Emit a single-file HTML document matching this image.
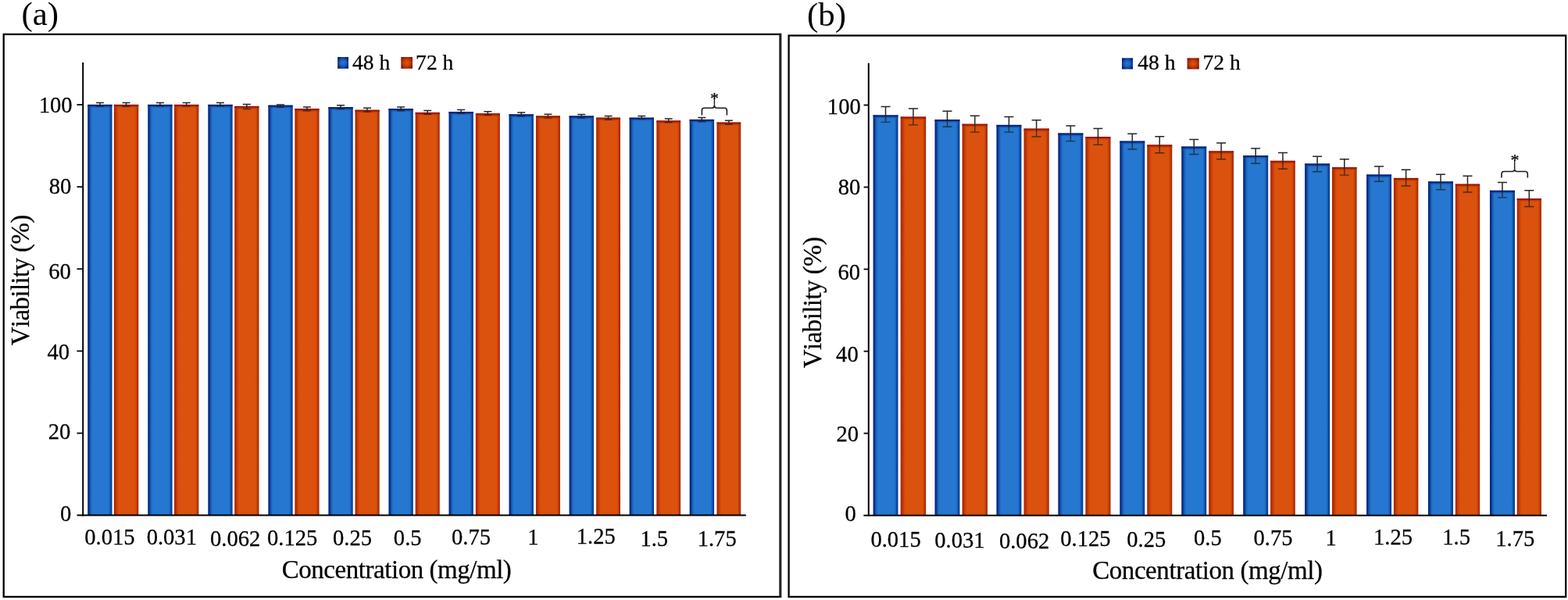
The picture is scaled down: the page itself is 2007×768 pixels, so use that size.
<!DOCTYPE html>
<html><head><meta charset="utf-8"><title>Viability charts</title>
<style>
html,body{margin:0;padding:0;background:#fff;}
body{width:2007px;height:768px;overflow:hidden;}
svg{display:block;}
text{font-family:'Liberation Serif', 'Times New Roman', serif;fill:#000;font-kerning:none;stroke:#000;stroke-width:0.25px;}
</style></head><body>
<svg width="2007" height="768" viewBox="0 0 2007 768">
<rect width="2007" height="768" fill="#fff"/>

<defs>
<linearGradient id="hB" x1="0" y1="0" x2="1" y2="0">
 <stop offset="0" stop-color="#001f78"/><stop offset="0.035" stop-color="#00287f"/>
 <stop offset="0.12" stop-color="#1a60ba"/><stop offset="0.19" stop-color="#2577cf"/>
 <stop offset="0.86" stop-color="#2577cf"/><stop offset="0.94" stop-color="#0f4ea8"/>
 <stop offset="1" stop-color="#002a86"/>
</linearGradient>
<linearGradient id="hO" x1="0" y1="0" x2="1" y2="0">
 <stop offset="0" stop-color="#a82000"/><stop offset="0.035" stop-color="#b22600"/>
 <stop offset="0.12" stop-color="#cd4206"/><stop offset="0.19" stop-color="#da520d"/>
 <stop offset="0.86" stop-color="#da520d"/><stop offset="0.94" stop-color="#be3904"/>
 <stop offset="1" stop-color="#a01c00"/>
</linearGradient>
<linearGradient id="vB" x1="0" y1="0" x2="0" y2="1">
 <stop offset="0" stop-color="#001466" stop-opacity="1"/><stop offset="0.3" stop-color="#00207a" stop-opacity="0.85"/>
 <stop offset="1" stop-color="#2577cf" stop-opacity="0"/>
</linearGradient>
<linearGradient id="vO" x1="0" y1="0" x2="0" y2="1">
 <stop offset="0" stop-color="#8a0a00" stop-opacity="1"/><stop offset="0.3" stop-color="#9c1600" stop-opacity="0.85"/>
 <stop offset="1" stop-color="#da520d" stop-opacity="0"/>
</linearGradient>
<radialGradient id="lgB" cx="0.5" cy="0.5" r="0.6">
 <stop offset="0" stop-color="#2a7ad2"/><stop offset="0.5" stop-color="#1a5cb8"/><stop offset="1" stop-color="#001a6a"/>
</radialGradient>
<radialGradient id="lgO" cx="0.5" cy="0.5" r="0.6">
 <stop offset="0" stop-color="#e0560f"/><stop offset="0.5" stop-color="#c83c05"/><stop offset="1" stop-color="#801000"/>
</radialGradient>
</defs>

<rect x="4.7" y="43.9" width="994.20" height="720.00" fill="none" stroke="#000" stroke-width="2.3"/>
<rect x="997.35" y="42.75" width="3.0" height="722.30" fill="#222"/>
<text x="27.44" y="32.07" font-size="42.90" style="stroke:none">(a)</text>
<rect x="432.1" y="73" width="13.90" height="14.80" fill="url(#lgB)"/>
<rect x="513.3" y="73" width="14.70" height="14.80" fill="url(#lgO)"/>
<text x="450.91" y="88.50" font-size="27.6">48 h</text>
<text x="532.12" y="88.50" font-size="27.6">72 h</text>
<rect x="112.24" y="133.90" width="31.21" height="525.70" fill="url(#hB)"/>
<rect x="112.24" y="133.90" width="31.21" height="5" fill="url(#vB)"/>
<rect x="145.87" y="133.90" width="31.39" height="525.70" fill="url(#hO)"/>
<rect x="145.87" y="133.90" width="31.39" height="5" fill="url(#vO)"/>
<rect x="189.28" y="133.90" width="31.23" height="525.70" fill="url(#hB)"/>
<rect x="189.28" y="133.90" width="31.23" height="5" fill="url(#vB)"/>
<rect x="223.03" y="133.90" width="31.32" height="525.70" fill="url(#hO)"/>
<rect x="223.03" y="133.90" width="31.32" height="5" fill="url(#vO)"/>
<rect x="266.33" y="133.90" width="31.25" height="525.70" fill="url(#hB)"/>
<rect x="266.33" y="133.90" width="31.25" height="5" fill="url(#vB)"/>
<rect x="300.19" y="135.90" width="31.25" height="523.70" fill="url(#hO)"/>
<rect x="300.19" y="135.90" width="31.25" height="5" fill="url(#vO)"/>
<rect x="343.37" y="134.70" width="31.26" height="524.90" fill="url(#hB)"/>
<rect x="343.37" y="134.70" width="31.26" height="5" fill="url(#vB)"/>
<rect x="377.36" y="139.10" width="31.19" height="520.50" fill="url(#hO)"/>
<rect x="377.36" y="139.10" width="31.19" height="5" fill="url(#vO)"/>
<rect x="420.41" y="137.10" width="31.28" height="522.50" fill="url(#hB)"/>
<rect x="420.41" y="137.10" width="31.28" height="5" fill="url(#vB)"/>
<rect x="454.52" y="140.70" width="31.12" height="518.90" fill="url(#hO)"/>
<rect x="454.52" y="140.70" width="31.12" height="5" fill="url(#vO)"/>
<rect x="497.46" y="139.10" width="31.30" height="520.50" fill="url(#hB)"/>
<rect x="497.46" y="139.10" width="31.30" height="5" fill="url(#vB)"/>
<rect x="531.68" y="143.90" width="31.05" height="515.70" fill="url(#hO)"/>
<rect x="531.68" y="143.90" width="31.05" height="5" fill="url(#vO)"/>
<rect x="574.50" y="143.10" width="31.32" height="516.50" fill="url(#hB)"/>
<rect x="574.50" y="143.10" width="31.32" height="5" fill="url(#vB)"/>
<rect x="608.85" y="145.20" width="30.99" height="514.40" fill="url(#hO)"/>
<rect x="608.85" y="145.20" width="30.99" height="5" fill="url(#vO)"/>
<rect x="651.54" y="146.30" width="31.33" height="513.30" fill="url(#hB)"/>
<rect x="651.54" y="146.30" width="31.33" height="5" fill="url(#vB)"/>
<rect x="686.01" y="148.40" width="30.92" height="511.20" fill="url(#hO)"/>
<rect x="686.01" y="148.40" width="30.92" height="5" fill="url(#vO)"/>
<rect x="728.59" y="148.40" width="31.35" height="511.20" fill="url(#hB)"/>
<rect x="728.59" y="148.40" width="31.35" height="5" fill="url(#vB)"/>
<rect x="763.17" y="150.60" width="30.85" height="509.00" fill="url(#hO)"/>
<rect x="763.17" y="150.60" width="30.85" height="5" fill="url(#vO)"/>
<rect x="805.63" y="150.60" width="31.37" height="509.00" fill="url(#hB)"/>
<rect x="805.63" y="150.60" width="31.37" height="5" fill="url(#vB)"/>
<rect x="840.34" y="154.40" width="30.78" height="505.20" fill="url(#hO)"/>
<rect x="840.34" y="154.40" width="30.78" height="5" fill="url(#vO)"/>
<rect x="882.67" y="152.90" width="31.38" height="506.70" fill="url(#hB)"/>
<rect x="882.67" y="152.90" width="31.38" height="5" fill="url(#vB)"/>
<rect x="917.50" y="156.60" width="30.72" height="503.00" fill="url(#hO)"/>
<rect x="917.50" y="156.60" width="30.72" height="5" fill="url(#vO)"/>
<path d="M122.85 131.40H132.85M127.85 131.40V133.90" stroke="#262626" stroke-width="1.5" fill="none"/>
<path d="M127.85 133.90V136.20M122.85 136.20H132.85" stroke="#1a1a1a" stroke-opacity="0.72" stroke-width="1.4" fill="none"/>
<path d="M156.56 131.40H166.56M161.56 131.40V133.90" stroke="#262626" stroke-width="1.5" fill="none"/>
<path d="M161.56 133.90V136.20M156.56 136.20H166.56" stroke="#1a1a1a" stroke-opacity="0.72" stroke-width="1.4" fill="none"/>
<path d="M199.90 131.50H209.90M204.90 131.50V133.90" stroke="#262626" stroke-width="1.5" fill="none"/>
<path d="M204.90 133.90V135.90M199.90 135.90H209.90" stroke="#1a1a1a" stroke-opacity="0.72" stroke-width="1.4" fill="none"/>
<path d="M233.69 131.50H243.69M238.69 131.50V133.90" stroke="#262626" stroke-width="1.5" fill="none"/>
<path d="M238.69 133.90V135.90M233.69 135.90H243.69" stroke="#1a1a1a" stroke-opacity="0.72" stroke-width="1.4" fill="none"/>
<path d="M276.95 131.50H286.95M281.95 131.50V133.90" stroke="#262626" stroke-width="1.5" fill="none"/>
<path d="M281.95 133.90V135.90M276.95 135.90H286.95" stroke="#1a1a1a" stroke-opacity="0.72" stroke-width="1.4" fill="none"/>
<path d="M310.82 133.60H320.82M315.82 133.60V135.90" stroke="#262626" stroke-width="1.5" fill="none"/>
<path d="M315.82 135.90V139.50M310.82 139.50H320.82" stroke="#1a1a1a" stroke-opacity="0.72" stroke-width="1.4" fill="none"/>
<path d="M354.00 133.90H364.00M359.00 133.90V134.70" stroke="#262626" stroke-width="1.5" fill="none"/>
<path d="M359.00 134.70V137.20M354.00 137.20H364.00" stroke="#1a1a1a" stroke-opacity="0.72" stroke-width="1.4" fill="none"/>
<path d="M387.95 137.00H397.95M392.95 137.00V139.10" stroke="#262626" stroke-width="1.5" fill="none"/>
<path d="M392.95 139.10V141.80M387.95 141.80H397.95" stroke="#1a1a1a" stroke-opacity="0.72" stroke-width="1.4" fill="none"/>
<path d="M431.05 134.80H441.05M436.05 134.80V137.10" stroke="#262626" stroke-width="1.5" fill="none"/>
<path d="M436.05 137.10V139.50M431.05 139.50H441.05" stroke="#1a1a1a" stroke-opacity="0.72" stroke-width="1.4" fill="none"/>
<path d="M465.08 138.30H475.08M470.08 138.30V140.70" stroke="#262626" stroke-width="1.5" fill="none"/>
<path d="M470.08 140.70V143.10M465.08 143.10H475.08" stroke="#1a1a1a" stroke-opacity="0.72" stroke-width="1.4" fill="none"/>
<path d="M508.11 137.00H518.11M513.11 137.00V139.10" stroke="#262626" stroke-width="1.5" fill="none"/>
<path d="M513.11 139.10V141.80M508.11 141.80H518.11" stroke="#1a1a1a" stroke-opacity="0.72" stroke-width="1.4" fill="none"/>
<path d="M542.21 141.50H552.21M547.21 141.50V143.90" stroke="#262626" stroke-width="1.5" fill="none"/>
<path d="M547.21 143.90V146.30M542.21 146.30H552.21" stroke="#1a1a1a" stroke-opacity="0.72" stroke-width="1.4" fill="none"/>
<path d="M585.16 140.40H595.16M590.16 140.40V143.10" stroke="#262626" stroke-width="1.5" fill="none"/>
<path d="M590.16 143.10V145.20M585.16 145.20H595.16" stroke="#1a1a1a" stroke-opacity="0.72" stroke-width="1.4" fill="none"/>
<path d="M619.34 142.80H629.34M624.34 142.80V145.20" stroke="#262626" stroke-width="1.5" fill="none"/>
<path d="M624.34 145.20V147.40M619.34 147.40H629.34" stroke="#1a1a1a" stroke-opacity="0.72" stroke-width="1.4" fill="none"/>
<path d="M662.21 143.90H672.21M667.21 143.90V146.30" stroke="#262626" stroke-width="1.5" fill="none"/>
<path d="M667.21 146.30V148.70M662.21 148.70H672.21" stroke="#1a1a1a" stroke-opacity="0.72" stroke-width="1.4" fill="none"/>
<path d="M696.47 146.30H706.47M701.47 146.30V148.40" stroke="#262626" stroke-width="1.5" fill="none"/>
<path d="M701.47 148.40V151.10M696.47 151.10H706.47" stroke="#1a1a1a" stroke-opacity="0.72" stroke-width="1.4" fill="none"/>
<path d="M739.26 146.50H749.26M744.26 146.50V148.40" stroke="#262626" stroke-width="1.5" fill="none"/>
<path d="M744.26 148.40V151.10M739.26 151.10H749.26" stroke="#1a1a1a" stroke-opacity="0.72" stroke-width="1.4" fill="none"/>
<path d="M773.60 148.40H783.60M778.60 148.40V150.60" stroke="#262626" stroke-width="1.5" fill="none"/>
<path d="M778.60 150.60V153.20M773.60 153.20H783.60" stroke="#1a1a1a" stroke-opacity="0.72" stroke-width="1.4" fill="none"/>
<path d="M816.31 148.40H826.31M821.31 148.40V150.60" stroke="#262626" stroke-width="1.5" fill="none"/>
<path d="M821.31 150.60V152.10M816.31 152.10H826.31" stroke="#1a1a1a" stroke-opacity="0.72" stroke-width="1.4" fill="none"/>
<path d="M850.73 152.10H860.73M855.73 152.10V154.40" stroke="#262626" stroke-width="1.5" fill="none"/>
<path d="M855.73 154.40V156.60M850.73 156.60H860.73" stroke="#1a1a1a" stroke-opacity="0.72" stroke-width="1.4" fill="none"/>
<path d="M893.36 150.40H903.36M898.36 150.40V152.90" stroke="#262626" stroke-width="1.5" fill="none"/>
<path d="M898.36 152.90V155.80M893.36 155.80H903.36" stroke="#1a1a1a" stroke-opacity="0.72" stroke-width="1.4" fill="none"/>
<path d="M927.86 154.20H937.86M932.86 154.20V156.60" stroke="#262626" stroke-width="1.5" fill="none"/>
<path d="M932.86 156.60V159.20M927.86 159.20H937.86" stroke="#1a1a1a" stroke-opacity="0.72" stroke-width="1.4" fill="none"/>
<line x1="106.2" y1="80.0" x2="106.2" y2="660.6" stroke="#000" stroke-width="2"/>
<line x1="98.5" y1="659.6" x2="954.8" y2="659.6" stroke="#000" stroke-width="2"/>
<line x1="98.5" y1="554.49" x2="106.2" y2="554.49" stroke="#000" stroke-width="1.8"/>
<line x1="98.5" y1="449.38" x2="106.2" y2="449.38" stroke="#000" stroke-width="1.8"/>
<line x1="98.5" y1="344.27" x2="106.2" y2="344.27" stroke="#000" stroke-width="1.8"/>
<line x1="98.5" y1="239.16" x2="106.2" y2="239.16" stroke="#000" stroke-width="1.8"/>
<line x1="98.5" y1="134.05" x2="106.2" y2="134.05" stroke="#000" stroke-width="1.8"/>
<text transform="translate(76.95,666.70) scale(1,1.03)" font-size="28.60" >0</text>
<text transform="translate(61.82,562.35) scale(1,1.03)" font-size="28.60" >20</text>
<text transform="translate(60.47,459.60) scale(1,1.03)" font-size="28.60" >40</text>
<text transform="translate(62.33,357.05) scale(1,1.03)" font-size="28.60" >60</text>
<text transform="translate(62.65,247.60) scale(1,1.03)" font-size="28.60" >80</text>
<text transform="translate(49.74,143.50) scale(1,1.03)" font-size="28.60" >100</text>
<text transform="translate(108.19,696.54) scale(1,1.03)" font-size="28.60" >0.015</text>
<text transform="translate(187.64,696.54) scale(1,1.03)" font-size="28.60" >0.031</text>
<text transform="translate(269.07,698.59) scale(1,1.03)" font-size="28.60" >0.062</text>
<text transform="translate(341.94,697.64) scale(1,1.03)" font-size="28.60" >0.125</text>
<text transform="translate(425.99,697.64) scale(1,1.03)" font-size="28.60" >0.25</text>
<text transform="translate(503.84,697.64) scale(1,1.03)" font-size="28.60" >0.5</text>
<text transform="translate(578.04,696.54) scale(1,1.03)" font-size="28.60" >0.75</text>
<text transform="translate(675.15,697.22) scale(1,1.03)" font-size="28.60" >1</text>
<text transform="translate(737.73,696.49) scale(1,1.03)" font-size="28.60" >1.25</text>
<text transform="translate(819.38,698.51) scale(1,1.03)" font-size="28.60" >1.5</text>
<text transform="translate(892.68,698.51) scale(1,1.03)" font-size="28.60" >1.75</text>
<text x="360.75" y="739.50" font-size="33.0" textLength="294.12" lengthAdjust="spacing">Concentration (mg/ml)</text>
<text transform="translate(36.80,442.27) rotate(-90)" x="0" y="0" font-size="33.0" textLength="167.64" lengthAdjust="spacing">Viability (%)</text>
<path d="M898.40 147.60V141.20Q898.40 138.20 901.40 138.20H911.40Q914.40 138.20 914.40 135.00Q914.40 138.20 917.40 138.20H927.40Q930.40 138.20 930.40 141.20V147.60" stroke="#1c1c1c" stroke-width="1.6" fill="none"/>
<path d="M914.40 135.00V126.00" stroke="#1c1c1c" stroke-width="1.4" fill="none"/>
<text x="908.89" y="133.37" font-size="22.00" stroke="#000" stroke-width="0.9">*</text>
<rect x="1009.6" y="45.5" width="994.60" height="718.40" fill="none" stroke="#000" stroke-width="2.3"/>
<text x="1032.99" y="33.12" font-size="42.90" style="stroke:none">(b)</text>
<rect x="1436" y="74.3" width="14.00" height="14.20" fill="url(#lgB)"/>
<rect x="1519.6" y="74.3" width="15.20" height="14.20" fill="url(#lgO)"/>
<text x="1456.31" y="88.90" font-size="27.6">48 h</text>
<text x="1539.52" y="88.90" font-size="27.6">72 h</text>
<rect x="1117.60" y="147.40" width="31.88" height="512.30" fill="url(#hB)"/>
<rect x="1117.60" y="147.40" width="31.88" height="5" fill="url(#vB)"/>
<rect x="1152.70" y="149.50" width="32.47" height="510.20" fill="url(#hO)"/>
<rect x="1152.70" y="149.50" width="32.47" height="5" fill="url(#vO)"/>
<rect x="1196.53" y="153.00" width="31.89" height="506.70" fill="url(#hB)"/>
<rect x="1196.53" y="153.00" width="31.89" height="5" fill="url(#vB)"/>
<rect x="1231.61" y="158.70" width="32.34" height="501.00" fill="url(#hO)"/>
<rect x="1231.61" y="158.70" width="32.34" height="5" fill="url(#vO)"/>
<rect x="1275.47" y="159.90" width="31.90" height="499.80" fill="url(#hB)"/>
<rect x="1275.47" y="159.90" width="31.90" height="5" fill="url(#vB)"/>
<rect x="1310.51" y="164.60" width="32.21" height="495.10" fill="url(#hO)"/>
<rect x="1310.51" y="164.60" width="32.21" height="5" fill="url(#vO)"/>
<rect x="1354.40" y="170.50" width="31.91" height="489.20" fill="url(#hB)"/>
<rect x="1354.40" y="170.50" width="31.91" height="5" fill="url(#vB)"/>
<rect x="1389.41" y="175.00" width="32.08" height="484.70" fill="url(#hO)"/>
<rect x="1389.41" y="175.00" width="32.08" height="5" fill="url(#vO)"/>
<rect x="1433.34" y="180.60" width="31.92" height="479.10" fill="url(#hB)"/>
<rect x="1433.34" y="180.60" width="31.92" height="5" fill="url(#vB)"/>
<rect x="1468.31" y="185.40" width="31.95" height="474.30" fill="url(#hO)"/>
<rect x="1468.31" y="185.40" width="31.95" height="5" fill="url(#vO)"/>
<rect x="1512.27" y="187.60" width="31.93" height="472.10" fill="url(#hB)"/>
<rect x="1512.27" y="187.60" width="31.93" height="5" fill="url(#vB)"/>
<rect x="1547.21" y="193.40" width="31.82" height="466.30" fill="url(#hO)"/>
<rect x="1547.21" y="193.40" width="31.82" height="5" fill="url(#vO)"/>
<rect x="1591.21" y="199.00" width="31.94" height="460.70" fill="url(#hB)"/>
<rect x="1591.21" y="199.00" width="31.94" height="5" fill="url(#vB)"/>
<rect x="1626.11" y="205.80" width="31.69" height="453.90" fill="url(#hO)"/>
<rect x="1626.11" y="205.80" width="31.69" height="5" fill="url(#vO)"/>
<rect x="1670.14" y="209.50" width="31.95" height="450.20" fill="url(#hB)"/>
<rect x="1670.14" y="209.50" width="31.95" height="5" fill="url(#vB)"/>
<rect x="1705.01" y="214.10" width="31.56" height="445.60" fill="url(#hO)"/>
<rect x="1705.01" y="214.10" width="31.56" height="5" fill="url(#vO)"/>
<rect x="1749.08" y="223.50" width="31.96" height="436.20" fill="url(#hB)"/>
<rect x="1749.08" y="223.50" width="31.96" height="5" fill="url(#vB)"/>
<rect x="1783.91" y="227.90" width="31.43" height="431.80" fill="url(#hO)"/>
<rect x="1783.91" y="227.90" width="31.43" height="5" fill="url(#vO)"/>
<rect x="1828.01" y="232.40" width="31.97" height="427.30" fill="url(#hB)"/>
<rect x="1828.01" y="232.40" width="31.97" height="5" fill="url(#vB)"/>
<rect x="1862.81" y="235.60" width="31.30" height="424.10" fill="url(#hO)"/>
<rect x="1862.81" y="235.60" width="31.30" height="5" fill="url(#vO)"/>
<rect x="1906.95" y="243.80" width="31.98" height="415.90" fill="url(#hB)"/>
<rect x="1906.95" y="243.80" width="31.98" height="5" fill="url(#vB)"/>
<rect x="1941.71" y="254.10" width="31.17" height="405.60" fill="url(#hO)"/>
<rect x="1941.71" y="254.10" width="31.17" height="5" fill="url(#vO)"/>
<path d="M1127.54 136.60H1139.54M1133.54 136.60V147.40" stroke="#262626" stroke-width="1.5" fill="none"/>
<path d="M1133.54 147.40V156.40M1127.54 156.40H1139.54" stroke="#1a1a1a" stroke-opacity="0.72" stroke-width="1.4" fill="none"/>
<path d="M1162.94 139.10H1174.94M1168.94 139.10V149.50" stroke="#262626" stroke-width="1.5" fill="none"/>
<path d="M1168.94 149.50V159.90M1162.94 159.90H1174.94" stroke="#1a1a1a" stroke-opacity="0.72" stroke-width="1.4" fill="none"/>
<path d="M1206.48 142.30H1218.48M1212.48 142.30V153.00" stroke="#262626" stroke-width="1.5" fill="none"/>
<path d="M1212.48 153.00V162.30M1206.48 162.30H1218.48" stroke="#1a1a1a" stroke-opacity="0.72" stroke-width="1.4" fill="none"/>
<path d="M1241.78 148.20H1253.78M1247.78 148.20V158.70" stroke="#262626" stroke-width="1.5" fill="none"/>
<path d="M1247.78 158.70V169.10M1241.78 169.10H1253.78" stroke="#1a1a1a" stroke-opacity="0.72" stroke-width="1.4" fill="none"/>
<path d="M1285.42 149.50H1297.42M1291.42 149.50V159.90" stroke="#262626" stroke-width="1.5" fill="none"/>
<path d="M1291.42 159.90V169.10M1285.42 169.10H1297.42" stroke="#1a1a1a" stroke-opacity="0.72" stroke-width="1.4" fill="none"/>
<path d="M1320.61 153.80H1332.61M1326.61 153.80V164.60" stroke="#262626" stroke-width="1.5" fill="none"/>
<path d="M1326.61 164.60V175.00M1320.61 175.00H1332.61" stroke="#1a1a1a" stroke-opacity="0.72" stroke-width="1.4" fill="none"/>
<path d="M1364.36 161.10H1376.36M1370.36 161.10V170.50" stroke="#262626" stroke-width="1.5" fill="none"/>
<path d="M1370.36 170.50V180.60M1364.36 180.60H1376.36" stroke="#1a1a1a" stroke-opacity="0.72" stroke-width="1.4" fill="none"/>
<path d="M1399.45 164.60H1411.45M1405.45 164.60V175.00" stroke="#262626" stroke-width="1.5" fill="none"/>
<path d="M1405.45 175.00V185.40M1399.45 185.40H1411.45" stroke="#1a1a1a" stroke-opacity="0.72" stroke-width="1.4" fill="none"/>
<path d="M1443.30 171.20H1455.30M1449.30 171.20V180.60" stroke="#262626" stroke-width="1.5" fill="none"/>
<path d="M1449.30 180.60V191.00M1443.30 191.00H1455.30" stroke="#1a1a1a" stroke-opacity="0.72" stroke-width="1.4" fill="none"/>
<path d="M1478.28 174.70H1490.28M1484.28 174.70V185.40" stroke="#262626" stroke-width="1.5" fill="none"/>
<path d="M1484.28 185.40V195.80M1478.28 195.80H1490.28" stroke="#1a1a1a" stroke-opacity="0.72" stroke-width="1.4" fill="none"/>
<path d="M1522.24 178.40H1534.24M1528.24 178.40V187.60" stroke="#262626" stroke-width="1.5" fill="none"/>
<path d="M1528.24 187.60V197.50M1522.24 197.50H1534.24" stroke="#1a1a1a" stroke-opacity="0.72" stroke-width="1.4" fill="none"/>
<path d="M1557.12 183.00H1569.12M1563.12 183.00V193.40" stroke="#262626" stroke-width="1.5" fill="none"/>
<path d="M1563.12 193.40V203.70M1557.12 203.70H1569.12" stroke="#1a1a1a" stroke-opacity="0.72" stroke-width="1.4" fill="none"/>
<path d="M1601.18 189.90H1613.18M1607.18 189.90V199.00" stroke="#262626" stroke-width="1.5" fill="none"/>
<path d="M1607.18 199.00V209.30M1601.18 209.30H1613.18" stroke="#1a1a1a" stroke-opacity="0.72" stroke-width="1.4" fill="none"/>
<path d="M1635.95 195.40H1647.95M1641.95 195.40V205.80" stroke="#262626" stroke-width="1.5" fill="none"/>
<path d="M1641.95 205.80V216.20M1635.95 216.20H1647.95" stroke="#1a1a1a" stroke-opacity="0.72" stroke-width="1.4" fill="none"/>
<path d="M1680.12 200.20H1692.12M1686.12 200.20V209.50" stroke="#262626" stroke-width="1.5" fill="none"/>
<path d="M1686.12 209.50V219.70M1680.12 219.70H1692.12" stroke="#1a1a1a" stroke-opacity="0.72" stroke-width="1.4" fill="none"/>
<path d="M1714.79 203.70H1726.79M1720.79 203.70V214.10" stroke="#262626" stroke-width="1.5" fill="none"/>
<path d="M1720.79 214.10V224.10M1714.79 224.10H1726.79" stroke="#1a1a1a" stroke-opacity="0.72" stroke-width="1.4" fill="none"/>
<path d="M1759.06 212.90H1771.06M1765.06 212.90V223.50" stroke="#262626" stroke-width="1.5" fill="none"/>
<path d="M1765.06 223.50V232.20M1759.06 232.20H1771.06" stroke="#1a1a1a" stroke-opacity="0.72" stroke-width="1.4" fill="none"/>
<path d="M1793.63 217.30H1805.63M1799.63 217.30V227.90" stroke="#262626" stroke-width="1.5" fill="none"/>
<path d="M1799.63 227.90V238.00M1793.63 238.00H1805.63" stroke="#1a1a1a" stroke-opacity="0.72" stroke-width="1.4" fill="none"/>
<path d="M1838.00 223.20H1850.00M1844.00 223.20V232.40" stroke="#262626" stroke-width="1.5" fill="none"/>
<path d="M1844.00 232.40V242.80M1838.00 242.80H1850.00" stroke="#1a1a1a" stroke-opacity="0.72" stroke-width="1.4" fill="none"/>
<path d="M1872.46 225.30H1884.46M1878.46 225.30V235.60" stroke="#262626" stroke-width="1.5" fill="none"/>
<path d="M1878.46 235.60V246.00M1872.46 246.00H1884.46" stroke="#1a1a1a" stroke-opacity="0.72" stroke-width="1.4" fill="none"/>
<path d="M1916.94 233.40H1928.94M1922.94 233.40V243.80" stroke="#262626" stroke-width="1.5" fill="none"/>
<path d="M1922.94 243.80V252.90M1916.94 252.90H1928.94" stroke="#1a1a1a" stroke-opacity="0.72" stroke-width="1.4" fill="none"/>
<path d="M1951.30 243.80H1963.30M1957.30 243.80V254.10" stroke="#262626" stroke-width="1.5" fill="none"/>
<path d="M1957.30 254.10V264.50M1951.30 264.50H1963.30" stroke="#1a1a1a" stroke-opacity="0.72" stroke-width="1.4" fill="none"/>
<line x1="1111.8" y1="80.7" x2="1111.8" y2="660.7" stroke="#000" stroke-width="2"/>
<line x1="1105.4" y1="659.7" x2="1980.1" y2="659.7" stroke="#000" stroke-width="2"/>
<line x1="1105.6" y1="554.66" x2="1111.8" y2="554.66" stroke="#000" stroke-width="1.8"/>
<line x1="1105.6" y1="449.62" x2="1111.8" y2="449.62" stroke="#000" stroke-width="1.8"/>
<line x1="1105.6" y1="344.58" x2="1111.8" y2="344.58" stroke="#000" stroke-width="1.8"/>
<line x1="1105.6" y1="239.54" x2="1111.8" y2="239.54" stroke="#000" stroke-width="1.8"/>
<line x1="1105.6" y1="134.50" x2="1111.8" y2="134.50" stroke="#000" stroke-width="1.8"/>
<text transform="translate(1081.40,666.55) scale(1,1.03)" font-size="28.60" >0</text>
<text transform="translate(1070.57,565.35) scale(1,1.03)" font-size="28.60" >20</text>
<text transform="translate(1070.12,463.45) scale(1,1.03)" font-size="28.60" >40</text>
<text transform="translate(1072.43,357.55) scale(1,1.03)" font-size="28.60" >60</text>
<text transform="translate(1072.80,249.00) scale(1,1.03)" font-size="28.60" >80</text>
<text transform="translate(1058.84,146.20) scale(1,1.03)" font-size="28.60" >100</text>
<text transform="translate(1114.39,699.79) scale(1,1.03)" font-size="28.60" >0.015</text>
<text transform="translate(1196.24,701.29) scale(1,1.03)" font-size="28.60" >0.031</text>
<text transform="translate(1278.92,702.39) scale(1,1.03)" font-size="28.60" >0.062</text>
<text transform="translate(1357.19,699.34) scale(1,1.03)" font-size="28.60" >0.125</text>
<text transform="translate(1442.29,700.04) scale(1,1.03)" font-size="28.60" >0.25</text>
<text transform="translate(1527.94,697.54) scale(1,1.03)" font-size="28.60" >0.5</text>
<text transform="translate(1604.44,697.74) scale(1,1.03)" font-size="28.60" >0.75</text>
<text transform="translate(1696.40,697.87) scale(1,1.03)" font-size="28.60" >1</text>
<text transform="translate(1758.08,697.49) scale(1,1.03)" font-size="28.60" >1.25</text>
<text transform="translate(1846.33,697.46) scale(1,1.03)" font-size="28.60" >1.5</text>
<text transform="translate(1914.28,698.91) scale(1,1.03)" font-size="28.60" >1.75</text>
<text x="1398.15" y="741.00" font-size="33.0" textLength="294.93" lengthAdjust="spacing">Concentration (mg/ml)</text>
<text transform="translate(1051.30,471.17) rotate(-90)" x="0" y="0" font-size="33.0" textLength="168.15" lengthAdjust="spacing">Viability (%)</text>
<path d="M1922.00 227.60V222.50Q1922.00 219.50 1925.00 219.50H1935.65Q1938.65 219.50 1938.65 216.50Q1938.65 219.50 1941.65 219.50H1952.30Q1955.30 219.50 1955.30 222.50V227.60" stroke="#1c1c1c" stroke-width="1.6" fill="none"/>
<path d="M1938.65 216.50V204.50" stroke="#1c1c1c" stroke-width="1.4" fill="none"/>
<text x="1933.49" y="211.87" font-size="22.00" stroke="#000" stroke-width="0.9">*</text>
</svg>
</body></html>
